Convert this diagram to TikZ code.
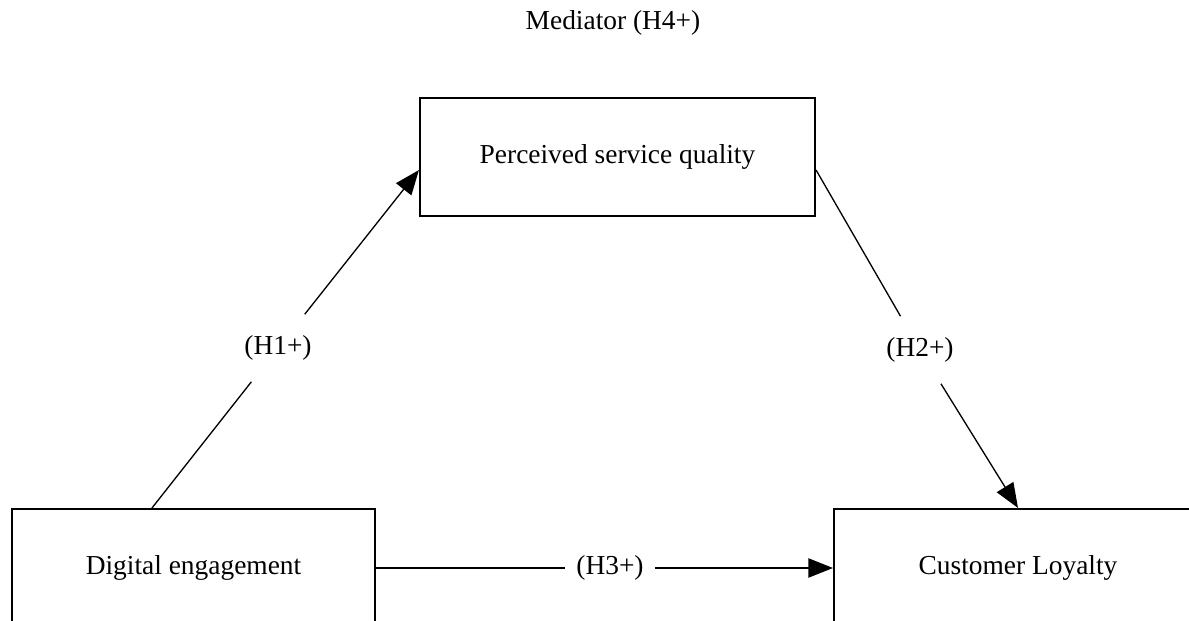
\documentclass[tikz,border=0pt]{standalone}
\usepackage{fontspec}
\setmainfont{Liberation Serif}
\usetikzlibrary{arrows.meta}
\begin{document}
\begin{tikzpicture}[
        box/.style={draw, line width=1.2pt, minimum width=7.36cm, minimum height=2.36cm, inner sep=0pt},
        hyp/.style={fill=white, inner xsep=0.22cm, inner ysep=0.42cm},
        arr/.style={line width=0.75pt, -{Triangle[length=14pt,width=11pt]}},
        every node/.append style={font=\fontsize{15.6}{18}\selectfont}
    ]
        \useasboundingbox (0,0) rectangle (23.78,-12.4);
        \begin{scope}
            \node (med) at (12.26,-0.46) {Mediator (H4+)};
            \node[box, minimum width=7.9cm] (s1) at (12.35,-3.14) {Perceived service quality};
            \node[box, minimum width=7.26cm] (s2) at (3.87,-11.36) {Digital engagement};
            \node[box] (s3) at (20.36,-11.36) {Customer Loyalty};
        \end{scope}
        \begin{scope}[every node/.append style={hyp}]
            \node (h1) at (5.56,-6.96) {(H1+)};
            \node (h2) at (18.4,-7.0) {(H2+)};
            \node (h3) at (12.2,-11.36) {(H3+)};
        \end{scope}
        \draw[arr] ([xshift=-0.83cm]s2.north) -- (h1) -- ([yshift=-0.26cm]s1.west);
        \draw[arr] ([yshift=-0.26cm]s1.east) -- (h2) -- (s3.north);
        \draw[arr] (s2) -- (h3) -- (s3);
    \end{tikzpicture}
\end{document}
